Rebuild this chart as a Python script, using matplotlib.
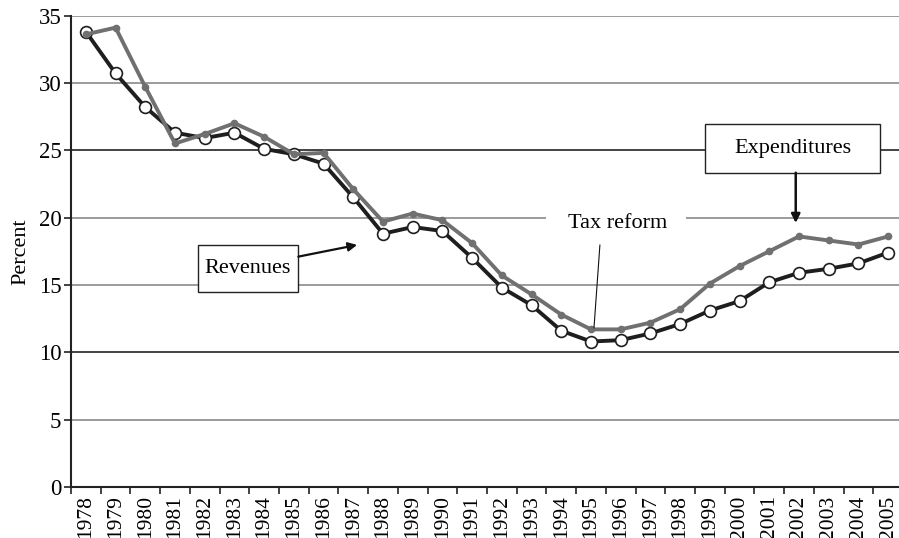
import numpy as np
import matplotlib
matplotlib.use("Agg")
import matplotlib.pyplot as plt
from matplotlib.patches import Rectangle

plt.rcParams['font.family'] = ['Liberation Serif', 'DejaVu Serif']

years = list(range(1978, 2006))
revenues = [33.8, 30.7, 28.2, 26.3, 25.9, 26.3, 25.1, 24.7, 24.0, 21.5,
            18.8, 19.3, 19.0, 17.0, 14.8, 13.5, 11.6, 10.8, 10.9, 11.4,
            12.1, 13.1, 13.8, 15.2, 15.9, 16.2, 16.6, 17.4]
expenditures = [33.6, 34.1, 29.7, 25.5, 26.2, 27.0, 26.0, 24.7, 24.8, 22.1,
                19.7, 20.3, 19.8, 18.1, 15.7, 14.3, 12.8, 11.7, 11.7, 12.2,
                13.2, 15.1, 16.4, 17.5, 18.6, 18.3, 18.0, 18.6]
yticks = [0, 5, 10, 15, 20, 25, 30, 35]

fig = plt.figure(figsize=(8.99, 5.38), dpi=100)
ax = fig.add_axes([71 / 899, 51 / 538, 832 / 899, 471.5 / 538])

x = np.arange(len(years))

# horizontal grid lines (some print darker than others)
for v in yticks[1:]:
    c = '#222222' if v in (10, 25) else '#8a8a8a'
    ax.axhline(v, color=c, lw=1.2, zorder=1)

ax.plot(x, revenues, color='#1e1e1e', lw=2.8, marker='o', ms=8.5,
        mfc='white', mec='#1e1e1e', mew=1.2, zorder=3)
ax.plot(x, expenditures, color='#707070', lw=2.8, marker='o', ms=4.5,
        mfc='#707070', mec='#707070', zorder=4)

ax.set_xlim(-0.5, len(years) - 0.5)
ax.set_ylim(0, 35)
ax.set_yticks(yticks)
ax.set_yticklabels([str(v) for v in yticks], fontsize=16.5)
ax.set_xticks(x)
ax.set_xticklabels([str(y) for y in years], rotation=90, fontsize=15.5)
ax.set_xticks(np.arange(-0.5, len(years), 1.0), minor=True)
ax.tick_params(axis='x', which='major', length=0, pad=6)
ax.tick_params(axis='x', which='minor', length=5, width=1.2, color='#222222')
ax.tick_params(axis='y', length=5, width=1.2, color='#222222', pad=2)
for s in ('top', 'right'):
    ax.spines[s].set_visible(False)
for s in ('left', 'bottom'):
    ax.spines[s].set_color('#222222')
    ax.spines[s].set_linewidth(1.5)
ax.set_ylabel('Percent', fontsize=16, labelpad=6)

# Revenues label box and arrow
ax.add_patch(Rectangle((3.77, 14.5), 3.38, 3.47, fc='white', ec='#222222',
                       lw=1.0, zorder=6))
ax.text(5.45, 16.2, 'Revenues', fontsize=16, ha='center', va='center', zorder=7)
ax.annotate('', xy=(9.13, 17.97), xytext=(7.15, 17.1), zorder=6,
            arrowprops=dict(arrowstyle='-|>', color='#111111', lw=1.6,
                            mutation_scale=13, shrinkA=0, shrinkB=0))

# Expenditures label box and arrow
ax.add_patch(Rectangle((20.84, 23.33), 5.89, 3.6, fc='white', ec='#222222',
                       lw=1.0, zorder=6))
ax.text(23.8, 25.1, 'Expenditures', fontsize=16, ha='center', va='center',
        zorder=7)
ax.annotate('', xy=(23.89, 19.6), xytext=(23.89, 23.33), zorder=6,
            arrowprops=dict(arrowstyle='-|>', color='#111111', lw=1.8,
                            mutation_scale=13, shrinkA=0, shrinkB=0))

# Tax reform callout
ax.text(17.91, 19.55, 'Tax reform', fontsize=16, ha='center', va='center',
        zorder=7, bbox=dict(boxstyle='square,pad=0.2', fc='white', ec='none'))
ax.add_patch(Rectangle((15.5, 19.0), 4.7, 1.2, fc='white', ec='none', zorder=5))
ax.annotate('', xy=(17.1, 11.8), xytext=(17.3, 17.97), zorder=6,
            arrowprops=dict(arrowstyle='-', color='#111111', lw=0.8,
                            shrinkA=0, shrinkB=0))

fig.savefig('out.png', dpi=100)
